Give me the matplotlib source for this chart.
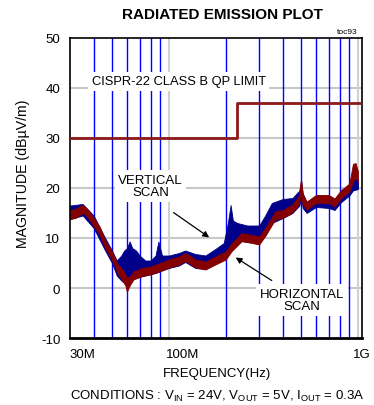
import matplotlib
matplotlib.use("Agg")
import matplotlib.pyplot as plt
import numpy as np

plt.rcParams['font.family'] = ['Liberation Sans', 'DejaVu Sans']
plt.rcParams['mathtext.fontset'] = 'custom'
plt.rcParams['mathtext.rm'] = 'Liberation Sans'
plt.rcParams['mathtext.it'] = 'Liberation Sans'

# ---- data (frequency in MHz, magnitude in dBuV/m) ----
horiz_freq = [30, 32, 34, 35, 36, 38, 40, 43, 46, 50, 53.5, 57, 59, 60, 61, 62.5, 65, 72, 80, 90,
              100, 113, 122, 130, 138, 156, 176, 200, 215, 243, 275, 300, 323, 365, 400, 446,
              485, 500, 510, 535, 600, 700, 752, 815, 900, 940, 970, 1000]
horiz_lo = [13.8, 14.0, 14.7, 15.0, 14.8, 13.7, 12.4, 10.7, 8.0, 5.7, 3.0, 1.4, 0.4, -0.8, -0.1, 0.7, 1.7,
            2.4, 2.7, 3.4, 4.1, 4.7, 5.4, 4.8, 4.1, 3.7, 4.7, 5.7, 7.4, 9.4, 9.0, 8.7, 10.4, 13.7,
            14.0, 15.0, 16.7, 18.7, 16.7, 15.7, 17.0, 17.0, 16.3, 18.0, 19.3, 21.2, 22.2, 21.2]
horiz_hi = [15.6, 15.8, 16.4, 16.6, 16.2, 15.3, 14.0, 12.3, 9.6, 7.3, 4.8, 3.6, 2.6, 2.0, 2.2, 2.4, 3.3,
            4.0, 4.3, 5.0, 5.7, 6.3, 7.0, 6.4, 5.7, 5.3, 6.3, 7.3, 9.0, 11.0, 10.6, 10.3, 12.0, 15.3,
            15.6, 16.6, 18.3, 21.8, 18.8, 17.3, 18.6, 18.6, 17.9, 19.6, 20.9, 24.8, 25.0, 23.3]

vert_freq = [30, 35, 40, 46, 50, 53, 56, 58, 60, 62, 64, 67, 70, 75, 80, 85, 88, 92, 100, 113, 122,
             138, 156, 176, 195, 205, 212, 218, 230, 260, 300, 323, 350, 400, 450, 490, 500, 510,
             535, 600, 700, 752, 815, 900, 940, 1000]
vert_lo = [13.8, 14.5, 12.0, 7.5, 5.0, 2.5, 1.5, 1.0, 1.0, 1.5, 1.8, 2.0, 2.2, 2.5, 2.8, 3.0, 3.2, 3.5,
           4.0, 4.5, 5.2, 4.0, 3.8, 4.8, 6.0, 7.5, 8.0, 8.5, 9.5, 9.2, 9.0, 10.5, 13.0, 14.0, 15.0,
           16.5, 18.0, 16.0, 15.0, 16.2, 16.0, 15.6, 17.2, 18.5, 19.5, 19.8]
vert_hi = [16.5, 16.8, 14.5, 10.0, 7.5, 5.5, 6.5, 7.5, 8.0, 9.3, 8.0, 7.5, 6.5, 5.5, 5.5, 6.5, 9.3, 6.5,
           6.5, 7.0, 7.5, 6.8, 6.5, 7.8, 9.0, 13.0, 16.6, 13.5, 13.0, 12.5, 12.5, 14.5, 17.0, 17.8,
           18.0, 19.5, 21.5, 19.0, 17.0, 18.5, 18.5, 17.8, 19.5, 20.5, 22.0, 21.8]

limit_freq = [30, 230, 230, 1050]
limit_val = [30, 30, 37, 37]

yticks = [-10, 0, 10, 20, 30, 40, 50]
blue_grid = [40, 50, 60, 70, 80, 90, 200, 300, 400, 500, 600, 700, 800, 900]
gray_vgrid = [100, 1000]
xtick_labels = {30: "30M", 100: "100M", 1000: "1G"}

# ---- figure ----
fig = plt.figure(figsize=(3.74, 4.06), dpi=100)
ax = fig.add_axes([70/374, 1-339/406, 292/374, 300/406])
ax.set_xscale('log')
ax.set_xlim(30, 1050)
ax.set_ylim(-10, 50)

for y in yticks[1:-1]:
    ax.axhline(y, color='#c8c8c8', lw=1.5, zorder=0.5)
for f in gray_vgrid:
    ax.axvline(f, color='#d0d0d0', lw=1.5, zorder=0.5)
for f in blue_grid:
    ax.axvline(f, color='#0000ff', lw=1.0, zorder=0.6)

ax.fill_between(vert_freq, vert_lo, vert_hi, color='#00008b', lw=0.6, zorder=2)
ax.fill_between(horiz_freq, horiz_lo, horiz_hi, color='#850000', lw=0.6, zorder=2.5)

ax.plot(limit_freq, limit_val, color='#8b1a1a', lw=2.0, zorder=3)

ax.set_yticks(yticks)
ax.set_yticklabels([str(v) for v in yticks], fontsize=9.5)
ax.tick_params(axis='y', length=0, pad=7)
ax.set_xticks([])
ax.xaxis.set_minor_locator(matplotlib.ticker.NullLocator())
for f, lab in xtick_labels.items():
    if f == 1000:
        ax.text(1050, -13.3, lab, ha='center', va='center', fontsize=9.5, clip_on=False)
    else:
        ax.text(f * (0.99 if f == 30 else 0.965), -13.3, lab, ha='left', va='center',
                fontsize=9.5, clip_on=False)

for s in ax.spines.values():
    s.set_color('black')
    s.set_linewidth(1.2)
ax.spines['bottom'].set_linewidth(2.0)

bbox_w = dict(facecolor='white', edgecolor='none', pad=2.5)
ax.text(39.0, 41.3, "CISPR-22 CLASS B QP LIMIT", fontsize=9.3, ha='left', va='center',
        bbox=bbox_w, zorder=4)
ax.text(80, 20.4, "VERTICAL\nSCAN", fontsize=9.5, ha='center', va='center',
        linespacing=1.05, bbox=bbox_w, zorder=4)
ax.text(505, -2.4, "HORIZONTAL\nSCAN", fontsize=9.5, ha='center', va='center',
        linespacing=1.05, bbox=bbox_w, zorder=4)

ax.annotate("", xy=(168, 9.8), xytext=(103, 15.4),
            arrowprops=dict(arrowstyle='-|>', color='black', lw=0.9, mutation_scale=9), zorder=5)
ax.annotate("", xy=(219, 6.4), xytext=(360, 1.2),
            arrowprops=dict(arrowstyle='-|>', color='black', lw=0.9, mutation_scale=9), zorder=5)

fig.text(222/374, 1-15/406, "RADIATED EMISSION PLOT", ha='center', va='center',
         fontsize=11, fontweight='bold')
fig.text(358/374, 1-33/406, "toc93", ha='right', va='center', fontsize=6)
fig.text(23/374, 1-174/406, "MAGNITUDE (dB\u00b5V/m)", rotation=90, ha='center', va='center',
         fontsize=10.2)
fig.text(217/374, 1-374/406, "FREQUENCY(Hz)", ha='center', va='center', fontsize=9.5)
fig.text(217/374, 1-396/406,
         r"CONDITIONS : V$_{\mathrm{IN}}$ = 24V, V$_{\mathrm{OUT}}$ = 5V, I$_{\mathrm{OUT}}$ = 0.3A",
         ha='center', va='center', fontsize=9.5)

fig.savefig("out.png", dpi=100, facecolor='white')
